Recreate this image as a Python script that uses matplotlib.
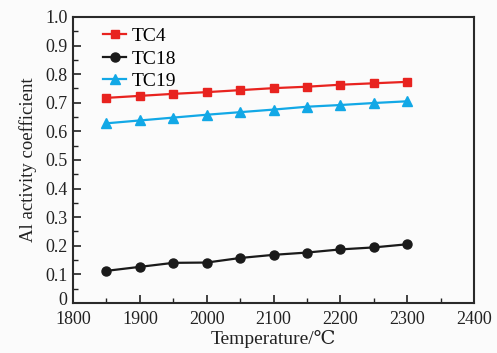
import matplotlib
matplotlib.use("Agg")
import matplotlib.pyplot as plt
import matplotlib.transforms as mtransforms
from matplotlib.ticker import MultipleLocator

temps = [1850, 1900, 1950, 2000, 2050, 2100, 2150, 2200, 2250, 2300]
tc4 = [0.717, 0.724, 0.731, 0.737, 0.744, 0.751, 0.756, 0.763, 0.768, 0.773]
tc18 = [0.112, 0.126, 0.140, 0.141, 0.157, 0.168, 0.176, 0.187, 0.194, 0.205]
tc19 = [0.628, 0.638, 0.648, 0.658, 0.667, 0.676, 0.686, 0.692, 0.699, 0.705]
yticks = [0, 0.1, 0.2, 0.3, 0.4, 0.5, 0.6, 0.7, 0.8, 0.9, 1.0]
ylabels = ['0', '0.1', '0.2', '0.3', '0.4', '0.5', '0.6', '0.7', '0.8', '0.9', '1.0']

plt.rcParams['font.family'] = ['Liberation Serif', 'DejaVu Serif']

fig = plt.figure(figsize=(4.97, 3.53), dpi=100, facecolor='#fbfbfb')
ax = fig.add_axes([0.147, 0.142, 0.807, 0.810])
ax.set_facecolor('#fbfbfb')

ax.plot(temps, tc4, '-s', color='#e8231f', lw=1.6, ms=6, label='TC4')
ax.plot(temps, tc18, '-o', color='#1a1a1a', lw=1.6, ms=6.5, label='TC18')
ax.plot(temps, tc19, '-^', color='#12a8e6', lw=1.6, ms=7, label='TC19')

ax.set_xlim(1800, 2400)
ax.set_ylim(0, 1.0)
ax.xaxis.set_major_locator(MultipleLocator(100))
ax.xaxis.set_minor_locator(MultipleLocator(50))
ax.yaxis.set_minor_locator(MultipleLocator(0.05))
ax.set_yticks(yticks)
ax.set_yticklabels(ylabels)
ax.tick_params(axis='both', which='both', direction='in', top=False, right=False,
               labelsize=13, colors='#222222')
ax.tick_params(which='major', length=6, width=1.2)
ax.tick_params(which='minor', length=3.5, width=1.0)
ax.tick_params(axis='x', pad=6)
ax.tick_params(axis='y', pad=4)
for s in ax.spines.values():
    s.set_linewidth(1.5)
    s.set_color('#2a2a2a')

# nudge the "0" label up slightly so it does not collide with "1800"
zero_lbl = ax.get_yticklabels()[0]
zero_lbl.set_transform(zero_lbl.get_transform() +
                       mtransforms.ScaledTranslation(0, 3 / 72, fig.dpi_scale_trans))

ax.set_xlabel('Temperature/\u2103', fontsize=14, labelpad=1, color='#222222')
ax.set_ylabel('Al activity coefficient', fontsize=13.5, labelpad=6, color='#222222')

leg = ax.legend(loc='upper left', frameon=False, fontsize=14, handlelength=1.2,
                handletextpad=0.3, labelspacing=0.25, borderaxespad=0.0,
                bbox_to_anchor=(0.055, 0.99))

fig.savefig('out.png', dpi=100, facecolor=fig.get_facecolor())
